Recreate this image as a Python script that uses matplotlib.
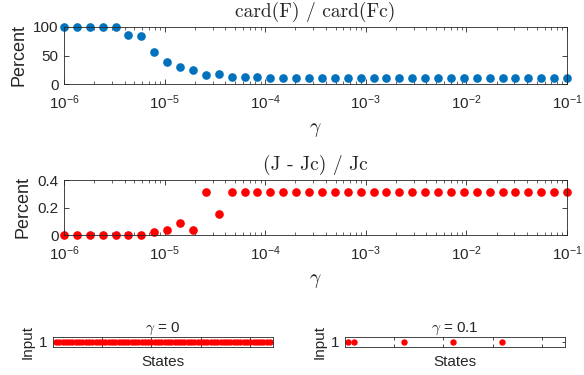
import numpy as np
import matplotlib
matplotlib.use('Agg')
import matplotlib.pyplot as plt
from matplotlib.ticker import LogLocator, NullFormatter

plt.rcParams['font.family'] = ['Liberation Sans', 'DejaVu Sans']
plt.rcParams['mathtext.fontset'] = 'cm'

# data
gamma = np.logspace(-6, -1, 40)
card_ratio = [100, 100, 100, 100, 100, 86, 84, 56, 38, 29, 24, 15, 18, 12, 12, 12,
              10, 10, 10] + [10] * 21
cost_ratio = [0, 0, 0, 0, 0, 0, 0, 0.024, 0.034, 0.086, 0.038, 0.311, 0.153] + [0.311] * 27

n_states = 66
input_g0 = list(range(1, 67))
input_g01 = [1, 3, 18, 33, 48]

W, H = 584, 375
ink = '#262626'
blue = '#0072BD'
red = '#FF0000'


def px_axes(fig, x0, y0, x1, y1):
    return fig.add_axes([x0 / W, 1 - y1 / H, (x1 - x0) / W, (y1 - y0) / H])


def style(ax):
    for s in ax.spines.values():
        s.set_color(ink)
        s.set_linewidth(0.6)
    ax.tick_params(direction='in', top=True, right=True, colors=ink,
                   labelsize=11, width=0.6, length=3.5)
    ax.tick_params(axis='x', pad=7)
    ax.tick_params(axis='y', pad=4)
    ax.tick_params(which='minor', direction='in', top=True, right=True,
                   colors=ink, width=0.5, length=2)


def log_panel(ax, y, color, ylim, yticks, yticklabels, title):
    ax.semilogx(gamma, y, 'o', color=color, ms=5.2, mec=color, clip_on=False)
    ax.set_xlim(1e-6, 1e-1)
    ax.set_ylim(*ylim)
    ax.set_yticks(yticks)
    ax.set_yticklabels(yticklabels)
    ax.xaxis.set_minor_locator(LogLocator(base=10, subs=np.arange(2, 10)))
    ax.xaxis.set_minor_formatter(NullFormatter())
    style(ax)
    ax.set_title(title, fontsize=14, color=ink, pad=7, family='cmr10')
    ax.set_xlabel(r'$\gamma$', fontsize=14, color=ink, labelpad=6)
    ax.set_ylabel('Percent', fontsize=13, color=ink, labelpad=4)


fig = plt.figure(figsize=(W / 100, H / 100), dpi=100)

ax1 = px_axes(fig, 64, 27, 567, 84)
log_panel(ax1, card_ratio, blue, (0, 100), [0, 50, 100], ['0', '50', '100'],
          'card(F) / card(Fc)')

ax2 = px_axes(fig, 64, 180, 567, 235)
log_panel(ax2, cost_ratio, red, (0, 0.4), [0, 0.2, 0.4], ['0', '0.2', '0.4'],
          '(J - Jc) / Jc')

# bottom: input maps
panels = [((52.7, 273.3), input_g0, r'$\gamma$ = 0'),
          ((344.5, 565), input_g01, r'$\gamma$ = 0.1')]
for (x0, x1), states, title in panels:
    ax = px_axes(fig, x0, 336.7, x1, 346.7)
    ax.plot(states, [1] * len(states), 'o', color=red, ms=3.6, mec=red)
    ax.set_xlim(0, n_states + 1)
    ax.set_ylim(0.5, 1.5)
    ax.set_xticks([15, 30, 45, 60])
    ax.set_xticklabels([])
    ax.set_yticks([1])
    style(ax)
    ax.tick_params(length=2.5)
    ax.tick_params(axis='x', pad=3)
    ax.set_title(title, fontsize=11, color=ink, pad=2)
    ax.set_xlabel('States', fontsize=11, color=ink, labelpad=3)
    ax.set_ylabel('Input', fontsize=11, color=ink, labelpad=3)

fig.savefig('out.png', dpi=100)
